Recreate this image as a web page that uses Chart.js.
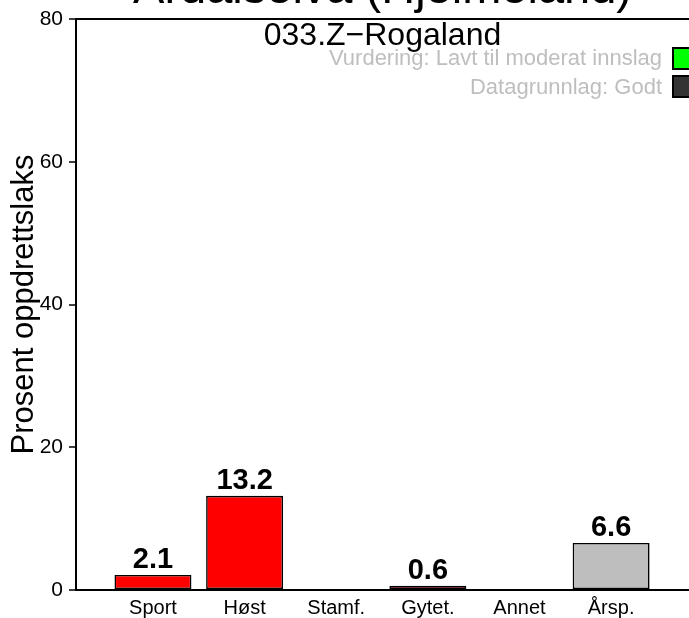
<!DOCTYPE html>
<html>
<head>
<meta charset="utf-8">
<script src="https://cdn.jsdelivr.net/npm/chart.js@4.4.1/dist/chart.umd.min.js"></script>
<style>
html,body{margin:0;padding:0;background:#fff;overflow:hidden;}
#wrap{position:relative;width:689px;height:618px;}
</style>
</head>
<body>
<div id="wrap"><canvas id="c" width="689" height="618"></canvas></div>
<script>
const categories = ['Sport', 'Høst', 'Stamf.', 'Gytet.', 'Annet', 'Årsp.'];
const values = [2.1, 13.2, null, 0.6, null, 6.6];
const barColors = ['#FF0000', '#FF0000', '#FF0000', '#FF0000', '#FF0000', '#BEBEBE'];
const yTicks = [0, 20, 40, 60, 80];
const titleText = 'Årdalselva (Hjelmeland)';
const subtitleText = '033.Z−Rogaland';
const legendItems = ['Vurdering: Lavt til moderat innslag', 'Datagrunnlag: Godt'];
const legendColors = ['#00FF00', '#333333'];
const yTitle = 'Prosent oppdrettslaks';

const FONT = '"Liberation Sans", Arial, Helvetica, sans-serif';

const decorPlugin = {
  id: 'decor',
  afterDatasetsDraw(chart) {
    const ctx = chart.ctx;
    const meta = chart.getDatasetMeta(0);
    ctx.save();
    ctx.fillStyle = '#000';
    ctx.font = 'bold 29px ' + FONT;
    ctx.textAlign = 'center';
    ctx.textBaseline = 'alphabetic';
    meta.data.forEach((el, i) => {
      const v = values[i];
      if (v === null || v === undefined) return;
      ctx.fillText(v.toFixed(1), el.x, el.y - 7);
    });
    ctx.restore();
  },
  afterDraw(chart) {
    const ctx = chart.ctx;
    const ca = chart.chartArea;
    const cx = (ca.left + ca.right) / 2;
    ctx.save();
    ctx.fillStyle = '#000';
    ctx.textAlign = 'center';
    ctx.textBaseline = 'alphabetic';
    ctx.font = '47px ' + FONT;
    ctx.fillText(titleText, cx, 3);
    ctx.font = '32px ' + FONT;
    ctx.fillText(subtitleText, cx, 45);
    // legend
    ctx.font = '22px ' + FONT;
    ctx.textAlign = 'right';
    const baselines = [65, 94];
    const boxTops = [48, 76];
    legendItems.forEach((t, i) => {
      ctx.fillStyle = '#BEBEBE';
      ctx.fillText(t, 662, baselines[i]);
      ctx.fillStyle = legendColors[i];
      ctx.fillRect(673, boxTops[i], 22, 21);
      ctx.lineWidth = 2;
      ctx.strokeStyle = '#000';
      ctx.strokeRect(673, boxTops[i], 22, 21);
    });
    ctx.restore();
  }
};

const ctx = document.getElementById('c').getContext('2d');
new Chart(ctx, {
  type: 'bar',
  data: {
    datasets: [{
      data: values.map((v, i) => ({x: i, y: v})),
      backgroundColor: barColors,
      borderColor: '#000',
      borderWidth: 1.6,
      borderSkipped: false,
      barPercentage: 0.84,
      categoryPercentage: 1.0
    }]
  },
  options: {
    responsive: false,
    animation: false,
    devicePixelRatio: 1,
    layout: {padding: {top: 19, left: 0, right: 0, bottom: 0}},
    plugins: {legend: {display: false}, tooltip: {enabled: false}, title: {display: false}},
    scales: {
      x: {
        type: 'linear',
        offset: false,
        min: -0.84,
        max: 5.85,
        afterBuildTicks(scale) { scale.ticks = categories.map((_, i) => ({value: i})); },
        afterFit(scale) { scale.height = 28; },
        grid: {display: false, drawTicks: false},
        border: {display: false},
        ticks: {
          autoSkip: false,
          maxRotation: 0,
          padding: 6,
          color: '#000',
          font: {family: FONT, size: 20},
          callback: (v) => categories[v] !== undefined ? categories[v] : ''
        }
      },
      y: {
        min: 0,
        max: 80,
        afterBuildTicks(scale) { scale.ticks = yTicks.map(v => ({value: v})); },
        afterFit(scale) { scale.width = 76; },
        grid: {
          color: (c) => (c.tick && (c.tick.value === 0 || c.tick.value === 80)) ? '#000' : 'rgba(0,0,0,0)',
          lineWidth: 2,
          tickColor: '#000',
          tickLength: 7,
          tickWidth: 1.5
        },
        border: {display: true, color: '#000', width: 2},
        ticks: {
          padding: 6,
          color: '#000',
          font: {family: FONT, size: 21}
        },
        title: {
          display: true,
          text: yTitle,
          color: '#000',
          font: {family: FONT, size: 31},
          padding: {top: 6, bottom: 0}
        }
      }
    }
  },
  plugins: [decorPlugin]
});
</script>
</body>
</html>
